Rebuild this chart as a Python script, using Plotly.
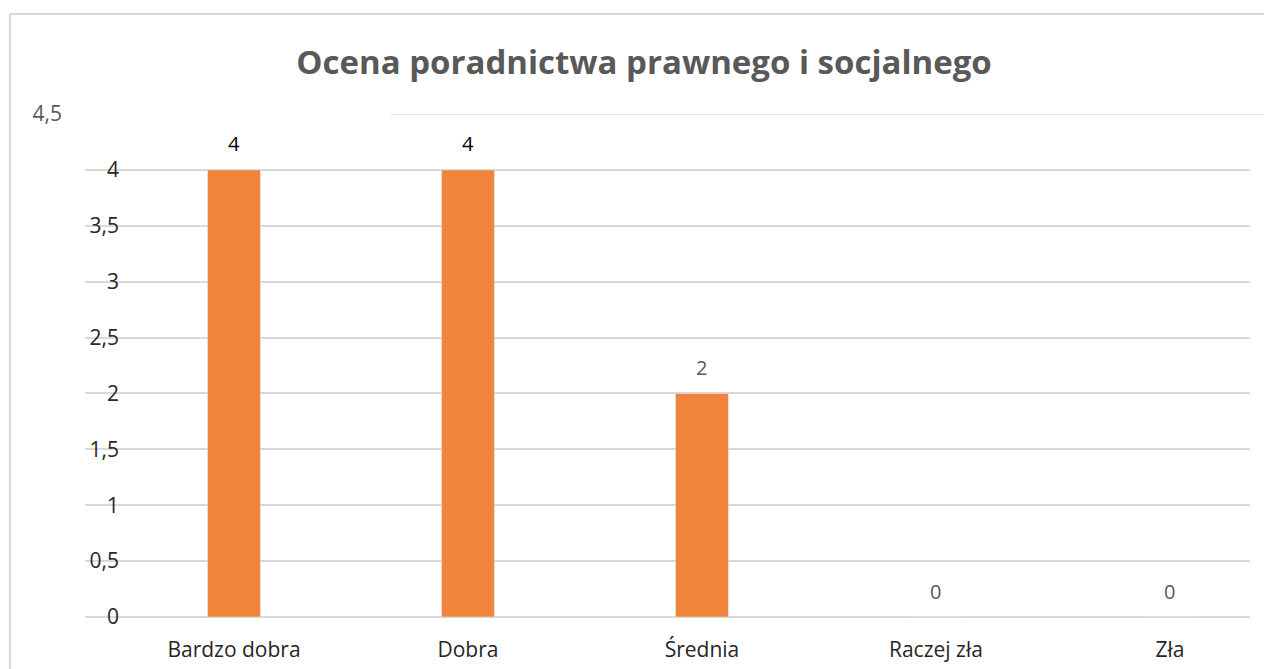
import plotly.graph_objects as go

categories = ["Bardzo dobra", "Dobra", "Średnia", "Raczej zła", "Zła"]
values = [4, 4, 2, 0, 0]
label_colors = ["#000000", "#000000", "#595959", "#595959", "#595959"]
ytick_vals = [0, 0.5, 1, 1.5, 2, 2.5, 3, 3.5, 4]
ytick_text = ["0", "0,5", "1", "1,5", "2", "2,5", "3", "3,5", "4"]
top_tick_val = [4.5]
top_tick_text = ["4,5"]
title = "Ocena poradnictwa prawnego i socjalnego"

FONT = "Open Sans"

fig = go.Figure()
fig.add_trace(go.Bar(x=categories, y=values, marker_color="#F0843A",
                     width=0.226, hoverinfo="x+y"))
# empty traces so the label-only axes get drawn
fig.add_trace(go.Scatter(x=[categories[0]], y=[None], yaxis="y2", mode="markers",
                         showlegend=False, hoverinfo="skip"))
fig.add_trace(go.Scatter(x=[categories[0]], y=[None], yaxis="y3", mode="markers",
                         showlegend=False, hoverinfo="skip"))

# data labels above bars
for c, v, col in zip(categories, values, label_colors):
    fig.add_annotation(x=c, y=v, text=str(v), showarrow=False, yshift=26,
                       font=dict(family=FONT, size=20, color=col))

fig.update_layout(
    width=1272, height=669,
    margin=dict(l=32, r=8, t=106, b=60),
    paper_bgcolor="white", plot_bgcolor="white",
    showlegend=False,
    title=dict(text="<b>" + title + "</b>", x=0.5, xref="container", xanchor="center",
               y=1 - 54 / 669, yref="container", yanchor="middle",
               font=dict(family=FONT, size=33, color="#595959")),
    xaxis=dict(domain=[0.0365, 0.9821], range=[-0.637, 4.342],
               showgrid=False, zeroline=False, showline=False,
               ticks="", ticklabelstandoff=18,
               tickfont=dict(family=FONT, size=21, color="#262626")),
    yaxis=dict(range=[0, 4.5], tickvals=ytick_vals, showticklabels=False,
               showgrid=True, gridcolor="#D9D9D9", gridwidth=1.5,
               zeroline=True, zerolinecolor="#D9D9D9", zerolinewidth=1.5,
               showline=False, ticks=""),
    yaxis2=dict(overlaying="y", anchor="free", position=0.0641, side="left",
                range=[0, 4.5], tickvals=ytick_vals, ticktext=ytick_text,
                showgrid=False, zeroline=False, showline=False, ticks="",
                tickfont=dict(family=FONT, size=21, color="#262626")),
    yaxis3=dict(overlaying="y", anchor="free", position=0.0179, side="left",
                range=[0, 4.5], tickvals=top_tick_val, ticktext=top_tick_text,
                showgrid=False, zeroline=False, showline=False, ticks="",
                tickfont=dict(family=FONT, size=21, color="#595959")),
)

# partial top gridline at 4,5
fig.add_shape(type="line", xref="paper", yref="y", x0=0.284, x1=1, y0=4.5, y1=4.5,
              line=dict(color="#D9D9D9", width=1.5))
# chart border (left and top)
fig.add_shape(type="line", xref="paper", yref="paper", x0=-0.0244, x1=1,
              y0=1.1988, y1=1.1988, line=dict(color="#D9D9D9", width=2))
fig.add_shape(type="line", xref="paper", yref="paper", x0=-0.0244, x1=-0.0244,
              y0=-0.2, y1=1.1988, line=dict(color="#D9D9D9", width=2))

fig.write_html("out.html")
